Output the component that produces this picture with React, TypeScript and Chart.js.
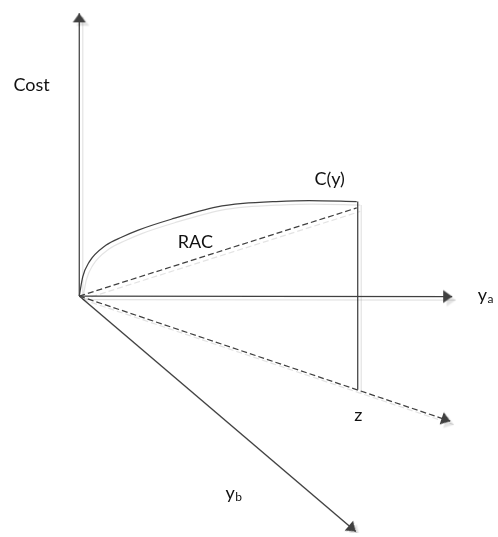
import React, { useEffect, useRef } from "react";
import { Chart, registerables } from "chart.js";

Chart.register(...registerables);

// ---- Diagram data (units: origin of the three axes at 0,0; y upward) ----
const costAxis = [
  { x: 0, y: 0 },
  { x: 0, y: 287 },
];
const yaAxis = [
  { x: 0, y: 0 },
  { x: 379, y: -0.5 },
];
const zAxis = [
  { x: 0, y: 0 },
  { x: 377, y: -127 },
];
const ybAxis = [
  { x: 0, y: 0 },
  { x: 281, y: -239 },
];
const costCurveX = [0, 3.5, 10, 27, 43.5, 60, 93.5, 140, 166.5, 200, 233.5, 282];
const costCurveY = [0, 19.5, 34.5, 51.5, 60, 67, 78, 90.5, 94, 96, 97, 96];
const cutLine = [
  { x: 283, y: 96 },
  { x: 283, y: -95 },
];
const racLine = [
  { x: 0, y: 0 },
  { x: 282, y: 89.5 },
];

// ---- Text labels ----
const labelTexts = ["Cost", "C(y)", "RAC", "z"];
const labelAnchors = [
  { x: -48.5, y: 208.5 },
  { x: 254.5, y: 112.5 },
  { x: 118, y: 48.5 },
  { x: 283.5, y: -126.5 },
];
const subLabels = [
  { main: "y", sub: "a", x: 405, y: -4.5 },
  { main: "y", sub: "b", x: 148.5, y: -205.5 },
];

const LINE = "#404040";

function makeArrow(color: string): HTMLCanvasElement {
  const c = document.createElement("canvas");
  c.width = 14;
  c.height = 20;
  const g = c.getContext("2d")!;
  g.fillStyle = color;
  g.beginPath();
  g.moveTo(7, 10);
  g.lineTo(13.5, 19);
  g.lineTo(0.5, 19);
  g.closePath();
  g.fill();
  return c;
}

function arrowRotation(pts: { x: number; y: number }[]): number {
  const a = pts[0];
  const b = pts[pts.length - 1];
  const dx = b.x - a.x;
  const dy = -(b.y - a.y); // screen y grows downward
  return 90 + (Math.atan2(dy, dx) * 180) / Math.PI;
}

const shadowPlugin = {
  id: "diagramShadow",
  beforeDatasetsDraw(chart: any) {
    const ctx = chart.ctx;
    ctx.save();
    ctx.shadowColor = "rgba(0,0,0,0.11)";
    ctx.shadowOffsetX = 3.5;
    ctx.shadowOffsetY = 3.5;
    ctx.shadowBlur = 0.5;
  },
  afterDatasetsDraw(chart: any) {
    chart.ctx.restore();
  },
};

const labelPlugin = {
  id: "diagramLabels",
  afterDraw(chart: any) {
    const ctx = chart.ctx;
    const xs = chart.scales.x;
    const ys = chart.scales.y;
    ctx.save();
    ctx.fillStyle = "#111111";
    ctx.textBaseline = "alphabetic";
    ctx.font = "18px Lato, 'Open Sans', sans-serif";
    ctx.textAlign = "center";
    labelTexts.forEach((t, i) => {
      const p = labelAnchors[i];
      ctx.fillText(t, xs.getPixelForValue(p.x), ys.getPixelForValue(p.y));
    });
    ctx.textAlign = "left";
    subLabels.forEach((l) => {
      const px = xs.getPixelForValue(l.x);
      const py = ys.getPixelForValue(l.y);
      ctx.font = "18px Lato, 'Open Sans', sans-serif";
      ctx.fillText(l.main, px, py);
      const w = ctx.measureText(l.main).width;
      ctx.font = "12px Lato, 'Open Sans', sans-serif";
      ctx.fillText(l.sub, px + w + 0.5, py + 2.5);
    });
    ctx.restore();
  },
};

export default function App() {
  const ref = useRef<HTMLCanvasElement | null>(null);

  useEffect(() => {
    if (!ref.current) return;
    const arrow = makeArrow(LINE);
    const arrowDs = (pts: { x: number; y: number }[], dashed: boolean) => ({
      data: pts,
      showLine: true,
      borderColor: LINE,
      borderWidth: 1.25,
      borderDash: dashed ? [6, 3] : [],
      pointRadius: [0, 1],
      pointStyle: ["circle", arrow],
      rotation: [0, arrowRotation(pts)],
      pointBackgroundColor: LINE,
      pointBorderWidth: 0,
      fill: false,
    });
    const plainDs = (pts: { x: number; y: number }[], dashed: boolean, extra: any = {}) => ({
      data: pts,
      showLine: true,
      borderColor: LINE,
      borderWidth: 1.25,
      borderDash: dashed ? [6, 3] : [],
      pointRadius: 0,
      fill: false,
      ...extra,
    });
    const curvePts = costCurveX.map((x, i) => ({ x, y: costCurveY[i] }));

    const chart = new Chart(ref.current, {
      type: "scatter",
      data: {
        datasets: [
          arrowDs(costAxis, false),
          arrowDs(yaAxis, false),
          arrowDs(zAxis, true),
          arrowDs(ybAxis, false),
          plainDs(curvePts, false, { cubicInterpolationMode: "monotone" }),
          plainDs(cutLine, false),
          plainDs(racLine, true),
        ] as any,
      },
      options: {
        responsive: false,
        animation: false,
        events: [],
        layout: { padding: 0 },
        plugins: {
          legend: { display: false },
          tooltip: { enabled: false },
          title: { display: false },
        },
        scales: {
          x: { type: "linear", min: -76.5, max: 421.5, display: false },
          y: { type: "linear", min: -240.5, max: 296.5, display: false },
        },
      },
      plugins: [shadowPlugin, labelPlugin],
    });
    return () => chart.destroy();
  }, []);

  return (
    <div
      style={{
        position: "fixed",
        left: 0,
        top: 0,
        width: 498,
        height: 537,
        background: "#ffffff",
      }}
    >
      <canvas ref={ref} width={498} height={537} />
    </div>
  );
}
